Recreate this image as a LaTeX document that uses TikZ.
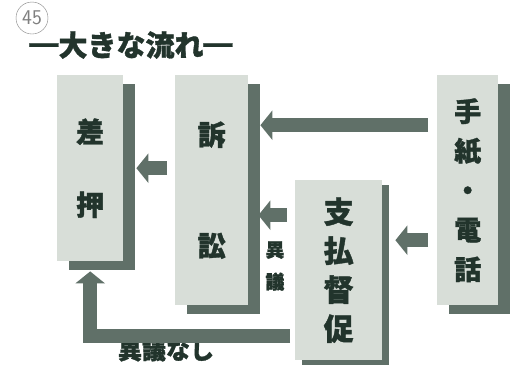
\documentclass[tikz,border=0pt]{standalone}
\usepackage{fontspec}
\newfontfamily\jp{Noto Sans CJK JP}[BoldFeatures={FakeBold=1.2}]
\usetikzlibrary{arrows.meta,shadows}
\definecolor{boxgray}{RGB}{216,222,216}
\definecolor{shadegray}{RGB}{96,112,104}
\definecolor{inkgreen}{RGB}{34,52,44}
\newcommand\boxfont[2]{\jp\bfseries\fontsize{#1}{#2}\selectfont}

\begin{document}
\begin{tikzpicture}[x=1pt, y=-1pt,
    stage/.style ={rectangle, fill=boxgray, inner sep=0pt, anchor=north west, text=inkgreen, align=center,
       drop shadow={shadow xshift=#1, shadow yshift={-0.75*#1}, opacity=1, fill=shadegray}},
    stage/.default=12pt,
    flow/.style ={line width=14pt, draw=shadegray, line join=miter, -{Triangle[width=29pt,length=12pt]}}]
   \useasboundingbox (0,0) rectangle (515,368);
   \node[draw=gray, circle, minimum size=32pt, inner sep=0pt, font=\sffamily\fontsize{21}{21}\selectfont, text=gray] (mark) at (32,18) {45};
   \node[font=\boxfont{29}{30}, text=inkgreen] (title) at (131,45) {━大きな流れ━};
   \node[stage, minimum width=66pt, minimum height=186pt, font=\boxfont{28}{73}] (sashi) at (57,75) {差\\押};
   \node[stage, minimum width=73pt, minimum height=230pt, font=\boxfont{28}{111}] (soshou) at (175,75) {訴\\訟};
   \node[stage, minimum width=61pt, minimum height=230pt, font=\boxfont{27}{39.5}] (tegami) at (437,75) {手\\紙\\・\\電\\話};
   \node[stage=7pt, minimum width=87pt, minimum height=180pt, font=\boxfont{30}{39}] (shiharai) at (295,180) {支\\払\\督\\促};
   \node[font=\boxfont{19}{32}, text=inkgreen, align=center] (igi) at (275,266) {異\\議};
   \node[font=\boxfont{24}{26}, text=inkgreen] (nashi) at (166,350) {異議なし};
   \draw[flow, shorten <=9pt] ([yshift=65pt]tegami.west) -- ([xshift=12pt, yshift=65pt]soshou.east);
   \draw[flow, shorten <=9pt] ([yshift=-50pt]tegami.west) -- ([xshift=13pt, yshift=30pt]shiharai.east);
   \draw[flow, shorten <=8pt] ([yshift=55pt]shiharai.west) -- ([xshift=10pt, yshift=-25pt]soshou.east);
   \draw[flow, shorten <=8pt] ([yshift=22pt]soshou.west) -- ([xshift=13pt]sashi.east);
   \draw[flow, shorten <=5pt] ([yshift=-66pt]shiharai.west) -| ([yshift=-10pt]sashi.south);
\end{tikzpicture}
\end{document}
